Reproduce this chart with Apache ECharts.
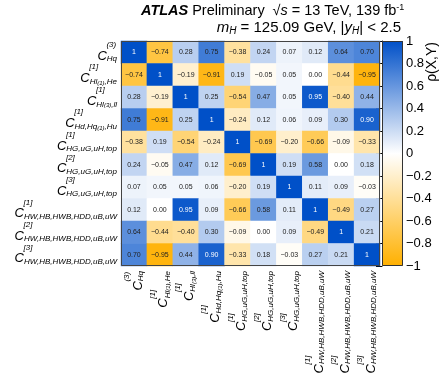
<!DOCTYPE html>
<html>
<head>
<meta charset="utf-8">
<script src="https://cdn.jsdelivr.net/npm/echarts@6/dist/echarts.min.js"></script>
<style>html,body{margin:0;padding:0;background:#fff;}#c{width:439px;height:380px;}</style>
</head>
<body>
<div id="c"></div>
<script>
// Parameters (rows top to bottom, columns left to right)
const categories = ['cHq3', 'cHl1He', 'cHl3ll', 'cHdHqHu', 'cHG1', 'cHG2', 'cHG3', 'cHW1', 'cHW2', 'cHW3'];
const supText = ['(3)', '[1]', '[1]', '[1]', '[1]', '[2]', '[3]', '[1]', '[2]', '[3]'];
const subText = [
  ['Hq'],
  ['Hl', '(1)', ',He'],
  ['Hl', '(3)', ',ll'],
  ['Hd,Hq', '(1)', ',Hu'],
  ['HG,uG,uH,top'],
  ['HG,uG,uH,top'],
  ['HG,uG,uH,top'],
  ['HW,HB,HWB,HDD,uB,uW'],
  ['HW,HB,HWB,HDD,uB,uW'],
  ['HW,HB,HWB,HDD,uB,uW']
];
// Correlation rows
const rowHq3    = [1, -0.74, 0.28, 0.75, -0.38, 0.24, 0.07, 0.12, 0.64, 0.70];
const rowHl1He  = [-0.74, 1, -0.19, -0.91, 0.19, -0.05, 0.05, 0.00, -0.44, -0.95];
const rowHl3ll  = [0.28, -0.19, 1, 0.25, -0.54, 0.47, 0.05, 0.95, -0.40, 0.44];
const rowHdHqHu = [0.75, -0.91, 0.25, 1, -0.24, 0.12, 0.06, 0.09, 0.30, 0.90];
const rowHG1    = [-0.38, 0.19, -0.54, -0.24, 1, -0.69, -0.20, -0.66, -0.09, -0.33];
const rowHG2    = [0.24, -0.05, 0.47, 0.12, -0.69, 1, 0.19, 0.58, 0.00, 0.18];
const rowHG3    = [0.07, 0.05, 0.05, 0.06, -0.20, 0.19, 1, 0.11, 0.09, -0.03];
const rowHW1    = [0.12, 0.00, 0.95, 0.09, -0.66, 0.58, 0.11, 1, -0.49, 0.27];
const rowHW2    = [0.64, -0.44, -0.40, 0.30, -0.09, 0.00, 0.09, -0.49, 1, 0.21];
const rowHW3    = [0.70, -0.95, 0.44, 0.90, -0.33, 0.18, -0.03, 0.27, 0.21, 1];
const rows = [rowHq3, rowHl1He, rowHl3ll, rowHdHqHu, rowHG1, rowHG2, rowHG3, rowHW1, rowHW2, rowHW3];

const FONT = 'Liberation Sans, Arial, Helvetica, sans-serif';
const BLUE = '#0050C8', WHITE = '#FFFFFF', ORANGE = '#FFB000';
const C_SIZE = 13, SUB_SIZE = 8, SS_SIZE = 6, C_ADV = 9;

const data = [];
rows.forEach((r, yi) => r.forEach((v, xi) => data.push([xi, yi, v])));

// text measurement to stack super/subscripts
const mctx = document.createElement('canvas').getContext('2d');
function tw(text, size) {
  mctx.font = 'italic ' + size + 'px ' + FONT;
  return mctx.measureText(text).width;
}

function fmtNum(v) {
  if (v === 1) return '1';
  return (v < 0 ? '\u2212' : '') + Math.abs(v).toFixed(2);
}

const labelRich = {
  sp: { width: C_ADV, fontSize: SUB_SIZE, lineHeight: 8 },
  sup: { fontSize: SUB_SIZE, lineHeight: 8, fontStyle: 'italic', fontFamily: FONT, color: '#000' },
  c: { fontSize: C_SIZE, lineHeight: 14, fontStyle: 'italic', fontFamily: FONT, color: '#000' },
  sub: { fontSize: SUB_SIZE, lineHeight: 8, fontStyle: 'italic', fontFamily: FONT, color: '#000', verticalAlign: 'bottom' },
  ss: { fontSize: SS_SIZE, lineHeight: 15, fontStyle: 'italic', fontFamily: FONT, color: '#000', verticalAlign: 'bottom' }
};
categories.forEach((cat, i) => {
  let w2 = tw('C', C_SIZE);
  subText[i].forEach((s, k) => { w2 += tw(s, k % 2 === 1 ? SS_SIZE : SUB_SIZE); });
  const pad = Math.max(0, w2 - C_ADV - tw(supText[i], SUB_SIZE));
  labelRich['pad' + i] = { width: pad, fontSize: SUB_SIZE, lineHeight: 8 };
});
function labelFmt(value) {
  const i = categories.indexOf(value);
  const sub = subText[i].map((s, k) => (k % 2 === 1 ? '{ss|' + s + '}' : '{sub|' + s + '}')).join('');
  return '{sp| }{sup|' + supText[i] + '}{pad' + i + '| }\n{c|C}' + sub;
}

const G = { left: 121, top: 41, width: 259, height: 225 };
const CB = { left: 382, top: 41, width: 21, height: 225 };

const chart = echarts.init(document.getElementById('c'), null, { renderer: 'canvas' });
chart.setOption({
  animation: false,
  backgroundColor: '#fff',
  title: [
    {
      left: 141, top: 3, padding: 0,
      text: '{b|ATLAS} {n|Preliminary}  {n|\u221A}{i|s}{n| = 13 TeV, 139 fb}{sup|-1}',
      textStyle: {
        fontWeight: 'normal', fontSize: 14, fontFamily: FONT, color: '#000',
        rich: {
          b: { fontSize: 14.5, fontWeight: 'bold', fontStyle: 'italic', fontFamily: FONT, color: '#000', lineHeight: 16 },
          n: { fontSize: 14.5, fontWeight: 'normal', fontFamily: FONT, color: '#000', lineHeight: 16 },
          i: { fontSize: 14.5, fontWeight: 'normal', fontStyle: 'italic', fontFamily: FONT, color: '#000', lineHeight: 16 },
          sup: { fontSize: 9, fontWeight: 'normal', fontFamily: FONT, color: '#000', lineHeight: 9, verticalAlign: 'top' }
        }
      }
    },
    {
      right: 38, top: 20, padding: 0,
      text: '{i|m}{sub|H}{n| = 125.09 GeV, |}{i|y}{sub|H}{n|| < 2.5}',
      textStyle: {
        fontWeight: 'normal', fontSize: 15, fontFamily: FONT, color: '#000',
        rich: {
          n: { fontSize: 15, fontWeight: 'normal', fontFamily: FONT, color: '#000', lineHeight: 16 },
          i: { fontSize: 15, fontWeight: 'normal', fontStyle: 'italic', fontFamily: FONT, color: '#000', lineHeight: 16 },
          sub: { fontSize: 10, fontWeight: 'normal', fontStyle: 'italic', fontFamily: FONT, color: '#000', lineHeight: 10, verticalAlign: 'bottom' }
        }
      }
    }
  ],
  grid: [
    { left: G.left, top: G.top, width: G.width, height: G.height, containLabel: false },
    { left: CB.left, top: CB.top, width: CB.width, height: CB.height, containLabel: false }
  ],
  xAxis: [
    {
      type: 'category', data: categories, gridIndex: 0,
      axisLine: { show: false }, axisTick: { show: false }, splitLine: { show: false },
      axisLabel: { rotate: 90, margin: 5, interval: 0, formatter: labelFmt, rich: labelRich }
    },
    { type: 'value', gridIndex: 1, show: false, min: 0, max: 1 }
  ],
  yAxis: [
    {
      type: 'category', data: categories, gridIndex: 0, inverse: true,
      axisLine: { show: false }, axisTick: { show: false }, splitLine: { show: false },
      axisLabel: { margin: 4, interval: 0, formatter: labelFmt, rich: labelRich }
    },
    {
      type: 'value', gridIndex: 1, position: 'right', min: -1, max: 1, interval: 0.2,
      axisLine: { show: true, lineStyle: { color: '#000', width: 1 } },
      axisTick: { show: true, inside: true, length: 6, lineStyle: { color: '#000' } },
      splitLine: { show: false },
      axisLabel: {
        margin: 3, fontSize: 13, fontFamily: FONT, color: '#000',
        formatter: v => {
          const r = Math.round(v * 10) / 10;
          if (r === 0) return '0';
          return (r < 0 ? '\u2212' : '') + String(Math.abs(r));
        }
      }
    }
  ],
  visualMap: {
    show: false, type: 'continuous', min: -1, max: 1, dimension: 2, seriesIndex: 0,
    inRange: { color: [ORANGE, WHITE, BLUE] }
  },
  series: [
    {
      type: 'heatmap', xAxisIndex: 0, yAxisIndex: 0, data: data,
      label: {
        show: true,
        formatter: p => {
          const v = p.value[2];
          return (v >= 0.85 ? '{w|' : '{k|') + fmtNum(v) + '}';
        },
        rich: {
          w: { fontSize: 7, fontFamily: FONT, color: '#fff' },
          k: { fontSize: 7, fontFamily: FONT, color: '#222' }
        }
      },
      itemStyle: { borderWidth: 0 },
      emphasis: { disabled: true }
    },
    { type: 'line', xAxisIndex: 1, yAxisIndex: 1, data: [], silent: true }
  ],
  graphic: [
    {
      type: 'rect', z: 1, silent: true,
      shape: { x: CB.left, y: CB.top, width: CB.width, height: CB.height },
      style: {
        fill: new echarts.graphic.LinearGradient(0, 0, 0, 1, [
          { offset: 0, color: BLUE }, { offset: 0.5, color: WHITE }, { offset: 1, color: ORANGE }
        ])
      }
    },
    {
      type: 'rect', z: 100, silent: true,
      shape: { x: G.left + 0.5, y: G.top + 0.5, width: G.width - 1, height: G.height - 1 },
      style: { fill: null, stroke: '#444', lineWidth: 1 }
    },
    {
      type: 'rect', z: 100, silent: true,
      shape: { x: CB.left + 0.5, y: CB.top + 0.5, width: CB.width - 1, height: CB.height - 1 },
      style: { fill: null, stroke: '#333', lineWidth: 1 }
    },
    {
      type: 'text', z: 100, silent: true,
      x: 432, y: 42, rotation: Math.PI / 2,
      style: { text: '\u03C1(X,Y)', fontSize: 14, fontFamily: FONT, fill: '#000', align: 'right', verticalAlign: 'middle' }
    }
  ]
});
</script>
</body>
</html>
